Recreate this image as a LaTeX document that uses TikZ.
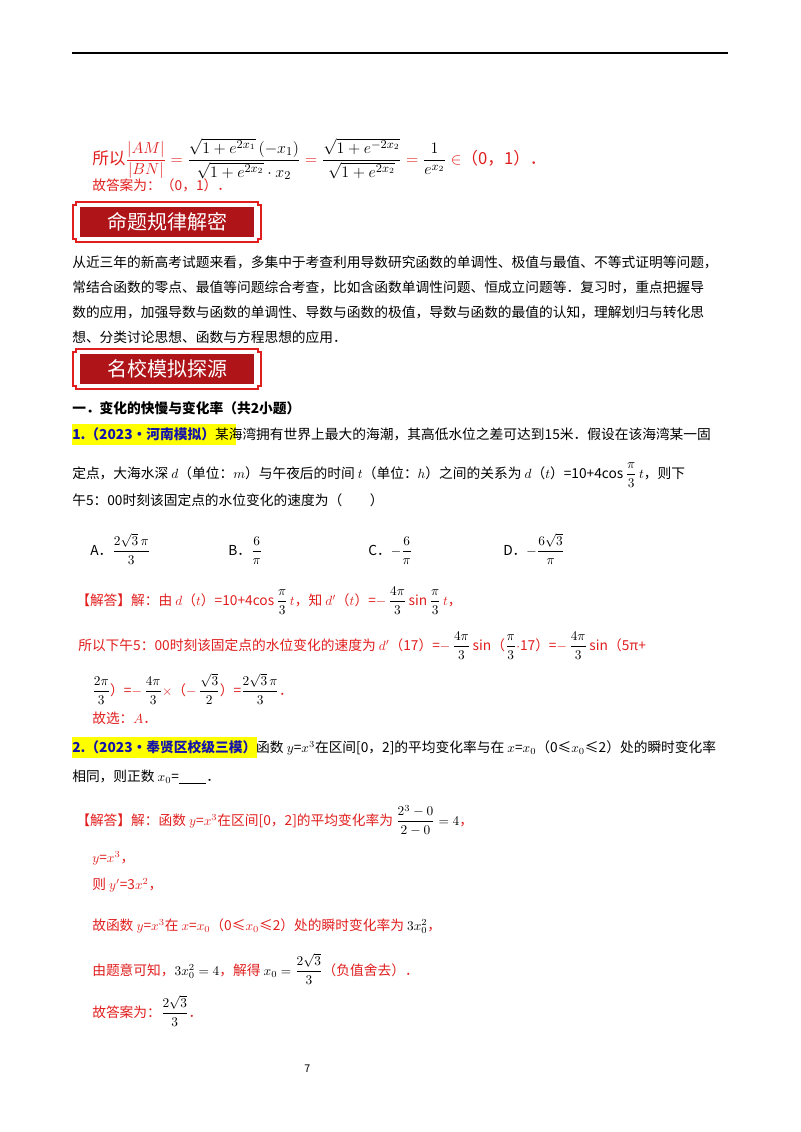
\documentclass[tikz,border=0pt]{standalone}
\usepackage{amsmath}
\usepackage{fontspec}
\setmainfont{Noto Sans CJK SC}
\definecolor{rd}{RGB}{225,30,30}
\definecolor{dr}{RGB}{175,20,25}
\definecolor{bl}{RGB}{20,20,170}
\definecolor{hy}{RGB}{255,255,0}
\tikzset{t/.style={anchor=base west,inner sep=0pt,font=\fontsize{10.3}{12}\selectfont},
 r/.style={t,text=rd},
 banner/.style={draw=rd,line width=0.8pt}}
\newcommand{\Banner}[3]{%
 \draw[banner] (#1+3,#2) -- (#1+185,#2) -- (#1+185,#2+3) -- (#1+188,#2+3) -- (#1+188,#2+37) -- (#1+185,#2+37) -- (#1+185,#2+40) -- (#1+3,#2+40) -- (#1+3,#2+37) -- (#1,#2+37) -- (#1,#2+3) -- (#1+3,#2+3) -- cycle;
 \fill[dr] (#1+7,#2+5) rectangle (#1+181,#2+35);
 \node[anchor=center,text=white,font=\fontsize{15}{17}\selectfont] at (#1+94,#2+20) {#3};}
\begin{document}
\begin{tikzpicture}[x=0.75pt,y=-0.75pt]
\useasboundingbox (0,0) rectangle (800,1132);
\fill[white] (0,0) rectangle (800,1132);
\draw[line width=0.8pt] (72,53) -- (728,53);
\node[r,font=\fontsize{12.5}{14}\selectfont] (f1) at (92,164) {所以$\dfrac{|AM|}{|BN|}={\color{black}\dfrac{\sqrt{1+e^{2x_1}}\,(-x_1)}{\sqrt{1+e^{2x_2}}\cdot x_2}}={\color{black}\dfrac{\sqrt{1+e^{-2x_2}}}{\sqrt{1+e^{2x_2}}}}={\color{black}\dfrac{1}{e^{x_2}}}\in$（0，1）．};
\node[r] (f2) at (92,190) {故答案为：（0，1）．};
\Banner{73}{202}{命题规律解密}
\node[t] (p1) at (72,267) {从近三年的新高考试题来看，多集中于考查利用导数研究函数的单调性、极值与最值、不等式证明等问题，};
\node[t] (p2) at (72,292) {常结合函数的零点、最值等问题综合考查，比如含函数单调性问题、恒成立问题等．复习时，重点把握导};
\node[t] (p3) at (72,317) {数的应用，加强导数与函数的单调性、导数与函数的极值，导数与函数的最值的认知，理解划归与转化思};
\node[t] (p4) at (72,342) {想、分类讨论思想、函数与方程思想的应用．};
\Banner{73}{349}{名校模拟探源}
\node[t,font=\fontsize{10.3}{12}\bfseries] (h1) at (72,413) {一．变化的快慢与变化率（共2小题）};
\fill[hy] (72,424) rectangle (236,445);
\node[t] (q1) at (72,439) {\textcolor{bl}{\bfseries 1.（2023•河南模拟）}某海湾拥有世界上最大的海潮，其高低水位之差可达到15米．假设在该海湾某一固};
\node[t] (q1b) at (72,478) {定点，大海水深 $d$（单位：$m$）与午夜后的时间 $t$（单位：$h$）之间的关系为 $d$（$t$）=10+4cos$\,\dfrac{\pi}{3}\,t$，则下};
\node[t] (q1c) at (72,505) {午5：00时刻该固定点的水位变化的速度为（　　）};
\node[t] (oa) at (90,555) {A．$\dfrac{2\sqrt3\,\pi}{3}$};
\node[t] (ob) at (228,555) {B．$\dfrac{6}{\pi}$};
\node[t] (oc) at (368,555) {C．$-\dfrac{6}{\pi}$};
\node[t] (od) at (503,555) {D．$-\dfrac{6\sqrt3}{\pi}$};
\node[r] (a1) at (76,605) {【解答】解：由 $d$（$t$）=10+4cos$\,{\color{black}\dfrac{\pi}{3}}\,t$，知 $d'$（$t$）=$-\,{\color{black}\dfrac{4\pi}{3}}$\,sin$\,{\color{black}\dfrac{\pi}{3}}\,t$，};
\node[r] (a2) at (78,650) {所以下午5：00时刻该固定点的水位变化的速度为 $d'$（17）=$-\,{\color{black}\dfrac{4\pi}{3}}$\,sin（${\color{black}\dfrac{\pi}{3}}\cdot$17）=$-\,{\color{black}\dfrac{4\pi}{3}}$\,sin（5π+};
\node[r] (a3) at (92,695) {${\color{black}\dfrac{2\pi}{3}}$）=$-\,{\color{black}\dfrac{4\pi}{3}}\times$（$-\,{\color{black}\dfrac{\sqrt3}{2}}$）=${\color{black}\dfrac{2\sqrt3\,\pi}{3}}$．};
\node[r] (a4) at (92,723) {故选：$A$．};
\fill[hy] (72,737) rectangle (257,758);
\node[t] (q2) at (72,752) {\textcolor{bl}{\bfseries 2.（2023•奉贤区校级三模）}函数 $y$=$x^3$在区间[0，2]的平均变化率与在 $x$=$x_0$（0≤$x_0$≤2）处的瞬时变化率};
\node[t] (q2b) at (72,781) {相同，则正数 $x_0$=\underline{\hspace{2em}}．};
\node[r] (b1) at (76,825) {【解答】解：函数 $y$=$x^3$在区间[0，2]的平均变化率为 ${\color{black}\dfrac{2^3-0}{2-0}=4}$，};
\node[r] (b2) at (92,862) {$y$=$x^3$，};
\node[r] (b3) at (92,889) {则 $y'$=3$x^2$，};
\node[r] (b4) at (92,930) {故函数 $y$=$x^3$在 $x$=$x_0$（0≤$x_0$≤2）处的瞬时变化率为 ${\color{black}3x_0^2}$，};
\node[r] (b5) at (92,975) {由题意可知，${\color{black}3x_0^2=4}$，解得 ${\color{black}x_0=\dfrac{2\sqrt3}{3}}$（负值舍去）．};
\node[r] (b6) at (92,1017) {故答案为：${\color{black}\dfrac{2\sqrt3}{3}}$．};
\node[t,font=\fontsize{8}{10}\selectfont] (pg) at (304,1072) {7};
\end{tikzpicture}
\end{document}
